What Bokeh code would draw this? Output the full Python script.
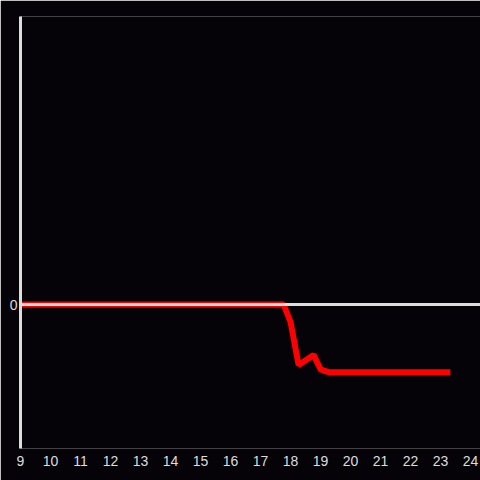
from bokeh.plotting import figure
from bokeh.models import Span, FixedTicker, Range1d
from bokeh.embed import file_html
from bokeh.resources import INLINE

hours = [9.0, 17.77, 18.0, 18.27, 18.77, 19.0, 19.27, 23.33]
values = [0.0, 0.0, -0.12, -0.42, -0.35, -0.45, -0.47, -0.47]
x_ticks = list(range(9, 25))
y_ticks = [0]

BG = "#050307"
AX = "#dddddd"

p = figure(frame_width=460, frame_height=432, output_backend="svg", toolbar_location=None,
           x_range=Range1d(9, 24.333), y_range=Range1d(-1, 2),
           min_border_left=20, min_border_right=0, min_border_top=16, min_border_bottom=32)
p.background_fill_color = BG
p.border_fill_color = BG
p.outline_line_color = None
p.grid.visible = False

p.xaxis.ticker = FixedTicker(ticks=x_ticks)
p.xaxis.axis_line_color = None
p.xaxis.major_tick_line_color = None
p.xaxis.minor_tick_line_color = None
p.xaxis.major_tick_out = 0
p.xaxis.major_tick_in = 0
p.xaxis.major_label_text_color = AX
p.xaxis.major_label_text_font = "Liberation Sans"
p.xaxis.major_label_text_font_size = "14px"
p.xaxis.major_label_standoff = 7

p.yaxis.ticker = FixedTicker(ticks=y_ticks)
p.yaxis.axis_line_color = AX
p.yaxis.axis_line_width = 3
p.yaxis.major_tick_line_color = None
p.yaxis.minor_tick_line_color = None
p.yaxis.major_tick_out = 0
p.yaxis.major_tick_in = 0
p.yaxis.major_label_text_color = AX
p.yaxis.major_label_text_font = "Liberation Sans"
p.yaxis.major_label_text_font_size = "14px"
p.yaxis.major_label_standoff = 3

p.add_layout(Span(location=0, dimension="width", line_color=AX, line_width=3))
p.line(hours, values, line_color="#ff0000", line_width=6)

open("out.html", "w").write(file_html(p, INLINE))
